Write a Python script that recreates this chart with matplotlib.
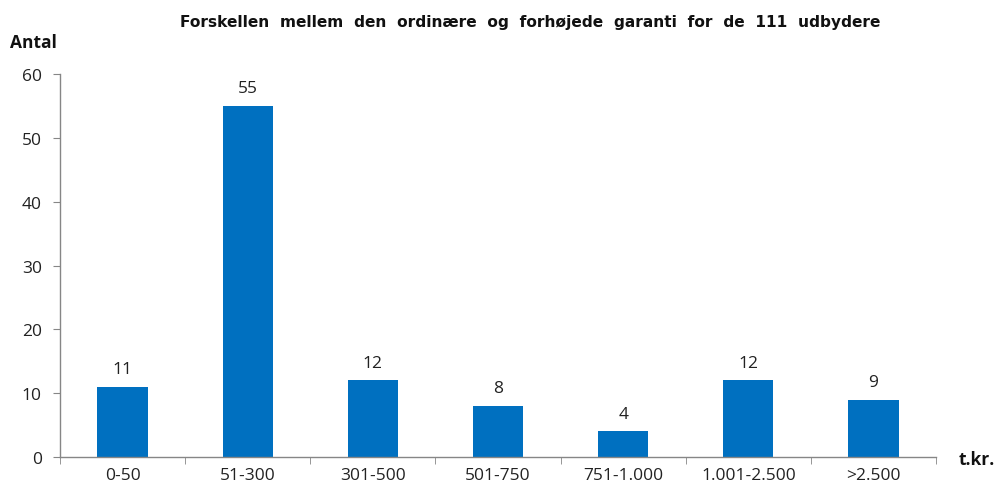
import matplotlib
matplotlib.use("Agg")
import matplotlib.pyplot as plt
import numpy as np

categories = ["0-50", "51-300", "301-500", "501-750", "751-1.000", "1.001-2.500", ">2.500"]
values = [11, 55, 12, 8, 4, 12, 9]
yticks = [0, 10, 20, 30, 40, 50, 60]

plt.rcParams['font.family'] = ['Open Sans', 'DejaVu Sans']

fig = plt.figure(figsize=(9.99, 4.89), dpi=100)
ax = fig.add_axes([0.060, 0.0634, 0.877, 0.7832])

x = np.arange(len(categories))
bars = ax.bar(x, values, width=0.4, color="#0070C0")
for xi, v in zip(x, values):
    ax.text(xi, v + 1.5, str(v), ha="center", va="bottom", fontsize=12.5, color="#222222")

ax.set_xlim(-0.5, len(categories) - 0.5)
ax.set_ylim(0, 60)
ax.set_yticks(yticks)
ax.set_xticks(x)
ax.set_xticklabels(categories)
ax.set_xticks(np.arange(-0.5, len(categories), 1.0), minor=True)
ax.tick_params(axis="x", which="major", length=0, labelsize=12.5, pad=7, colors="#222222")
ax.tick_params(axis="x", which="minor", length=5, color="#868686")
ax.tick_params(axis="y", length=5, color="#868686", labelsize=12.5, labelcolor="#222222", pad=8)

for s in ["top", "right"]:
    ax.spines[s].set_visible(False)
for s in ["left", "bottom"]:
    ax.spines[s].set_color("#868686")
    ax.spines[s].set_linewidth(1.0)

fig.text(0.531, 0.955, "Forskellen  mellem  den  ordinære  og  forhøjede  garanti  for  de  111  udbydere",
         ha="center", va="center", fontsize=11.1, fontweight="bold", family="DejaVu Sans", color="#111111")
fig.text(0.010, 0.912, "Antal", ha="left", va="center", fontsize=12.5, fontweight="bold", color="#111111")
fig.text(0.960, 0.060, "t.kr.", ha="left", va="center", fontsize=12.5, fontweight="bold", color="#111111")

fig.savefig("out.png", dpi=100)
